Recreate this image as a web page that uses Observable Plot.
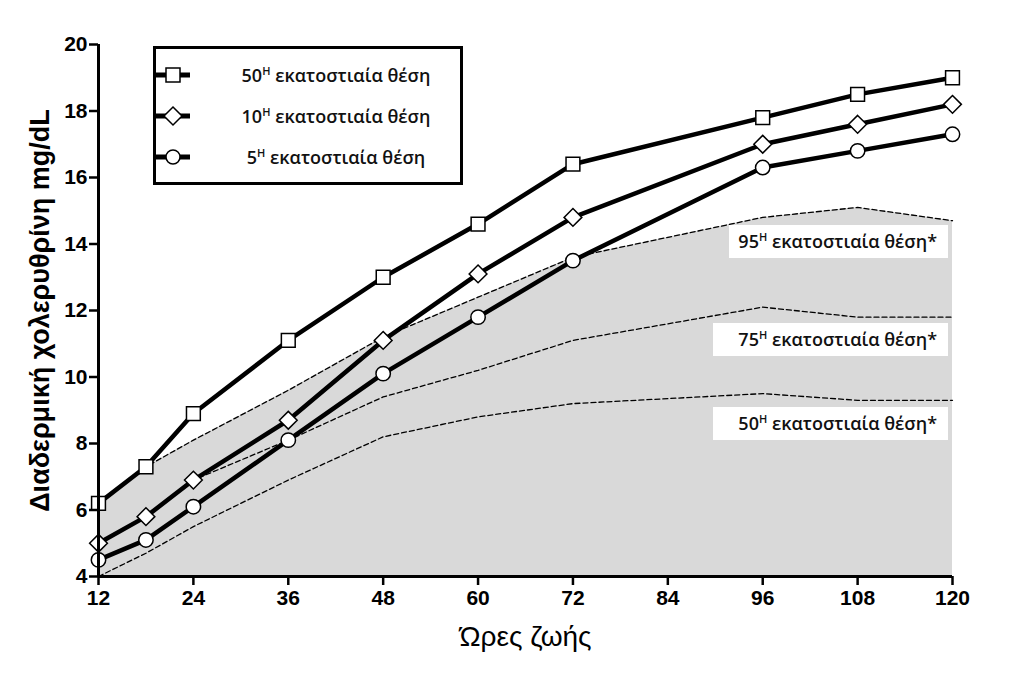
<!DOCTYPE html>
<html><head><meta charset="utf-8">
<script src="https://cdn.jsdelivr.net/npm/d3@7"></script>
<script src="https://cdn.jsdelivr.net/npm/@observablehq/plot@0.6"></script>
<style>
body{margin:0;background:#fff;}
#wrap{position:relative;width:1024px;height:682px;overflow:hidden;background:#fff;}
#wrap svg{position:absolute;left:0;top:0;}
.legend{position:absolute;left:153px;top:46px;width:310px;height:139px;box-sizing:border-box;border:3px solid #000;background:#fff;}
.lrow{position:absolute;left:0;width:100%;height:26px;}
.lrow svg{position:absolute;left:18px;top:0;}
.ltxt{position:absolute;left:60px;width:240px;text-align:center;top:0;line-height:26px;font-family:"Open Sans",sans-serif;font-weight:600;font-size:18px;color:#111;}
sup{font-size:11px;vertical-align:7px;line-height:0;}
.rlab{position:absolute;height:33px;box-sizing:border-box;background:#fff;text-align:right;padding-right:11px;line-height:33px;font-family:"Open Sans",sans-serif;font-weight:600;font-size:18px;color:#111;}
</style></head><body><div id="wrap"></div>
<script>
// Data
const hours = [12, 18, 24, 36, 48, 60, 72, 96, 108, 120];
const p50 = [6.2, 7.3, 8.9, 11.1, 13.0, 14.6, 16.4, 17.8, 18.5, 19.0];
const p10 = [5.0, 5.8, 6.9, 8.7, 11.1, 13.1, 14.8, 17.0, 17.6, 18.2];
const p5  = [4.5, 5.1, 6.1, 8.1, 10.1, 11.8, 13.5, 16.3, 16.8, 17.3];
const ref95 = [6.2, 7.3, 8.1, 9.6, 11.2, 12.4, 13.6, 14.8, 15.1, 14.7];
const ref75 = [5.0, 5.8, 6.9, 8.1, 9.4, 10.2, 11.1, 12.1, 11.8, 11.8];
const ref50 = [4.0, 4.7, 5.5, 6.9, 8.2, 8.8, 9.2, 9.5, 9.3, 9.3];
const xTicks = [12, 24, 36, 48, 60, 72, 84, 96, 108, 120];
const yTicks = [4, 6, 8, 10, 12, 14, 16, 18, 20];
const seriesNames = ["50", "10", "5"];
const refNames = ["95", "75", "50"];
const refLabelY = [14.05, 11.1, 8.6];
const refLabelX = 119.5;
const yTitle = "Διαδερμική χολερυθρίνη mg/dL";
const xTitle = "Ώρες ζωής";

const toRows = (arr) => hours.map((h, i) => ({h, v: arr[i]}));
const s50 = toRows(p50), s10 = toRows(p10), s5 = toRows(p5);
const r95 = toRows(ref95), r75 = toRows(ref75), r50 = toRows(ref50);

const dash = {x: "h", y: "v", stroke: "#000", strokeWidth: 1.3, strokeDasharray: "5,3"};
const line = {x: "h", y: "v", stroke: "#000", strokeWidth: 4.5};
const dot = {x: "h", y: "v", fill: "#fff", stroke: "#000", strokeWidth: 1.5};

const chart = Plot.plot({
  width: 1024, height: 682,
  marginLeft: 98, marginRight: 72, marginTop: 44, marginBottom: 106,
  x: {domain: [12, 120]},
  y: {domain: [4, 20]},
  style: {background: "transparent", color: "#000", overflow: "visible"},
  marks: [
    Plot.areaY(r95, {x: "h", y1: 4, y2: "v", fill: "#d9d9d9"}),
    Plot.line(r95, dash),
    Plot.line(r75, dash),
    Plot.line(r50, dash),
    Plot.line(s50, line),
    Plot.line(s10, line),
    Plot.line(s5, line),
    Plot.dot(s50, {...dot, symbol: "square", r: 7.8}),
    Plot.dot(s10, {...dot, symbol: "diamond2", r: 8}),
    Plot.dot(s5, {...dot, symbol: "circle", r: 7.2}),
    Plot.ruleY([4], {strokeWidth: 3}),
    Plot.ruleX([12], {strokeWidth: 3}),
    Plot.axisX({ticks: xTicks, tickSize: 9, strokeWidth: 2.5, tickPadding: 5, fontSize: 21, fontWeight: "bold", fontFamily: "Liberation Sans", label: null}),
    Plot.axisY({ticks: yTicks, tickSize: 9, strokeWidth: 2.5, tickPadding: 2, fontSize: 21, fontWeight: "bold", fontFamily: "Liberation Sans", label: null}),
    Plot.text([yTitle], {frameAnchor: "left", rotate: -90, dx: -58, textAnchor: "middle", fontSize: 27, fontWeight: "bold", fontFamily: "Liberation Sans", fill: "#000"}),
    Plot.text([xTitle], {frameAnchor: "bottom", dy: 69, textAnchor: "middle", fontSize: 28, fontFamily: "Liberation Sans", fill: "#000"})
  ]
});
const wrap = document.getElementById("wrap");
wrap.appendChild(chart);

// Legend
const icons = {
  "50": '<rect x="10" y="6" width="14" height="14" fill="#fff" stroke="#000" stroke-width="1.5"/>',
  "10": '<path d="M17 4 L26 13 L17 22 L8 13 Z" fill="#fff" stroke="#000" stroke-width="1.5"/>',
  "5": '<circle cx="17" cy="13" r="7" fill="#fff" stroke="#000" stroke-width="1.5"/>'
};
const leg = document.createElement("div");
leg.className = "legend";
const rowTops = [13, 54, 95];
seriesNames.forEach((n, i) => {
  const row = document.createElement("div");
  row.className = "lrow";
  row.style.top = rowTops[i] + "px";
  row.innerHTML = '<svg width="36" height="26"><line x1="0" x2="34" y1="13" y2="13" stroke="#000" stroke-width="5"/>' + icons[n] + '</svg>' +
    '<div class="ltxt">' + n + '<sup>Η</sup> εκατοστιαία θέση</div>';
  leg.appendChild(row);
});
wrap.appendChild(leg);

// Right-hand reference labels, positioned through the chart's scales
const sx = chart.scale("x"), sy = chart.scale("y");
const boxW = [219, 235, 235];
refNames.forEach((n, i) => {
  const d = document.createElement("div");
  d.className = "rlab";
  const right = sx.apply(refLabelX);
  d.style.left = (right - boxW[i]) + "px";
  d.style.width = boxW[i] + "px";
  d.style.top = (sy.apply(refLabelY[i]) - 16.5) + "px";
  d.innerHTML = n + '<sup>Η</sup> εκατοστιαία θέση*';
  wrap.appendChild(d);
});
</script></body></html>
